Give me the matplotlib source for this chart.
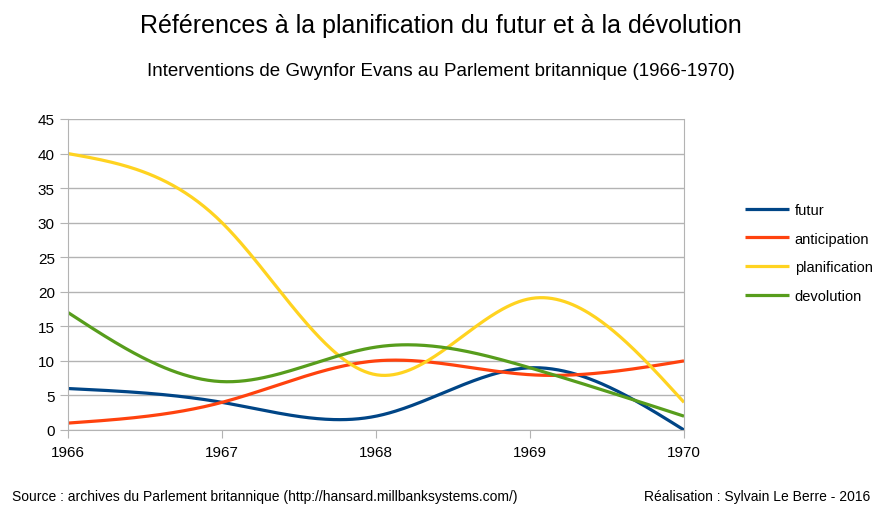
import numpy as np
import matplotlib.pyplot as plt
from matplotlib import font_manager

years = [1966, 1967, 1968, 1969, 1970]
futur = [6, 4, 2, 9, 0]
anticipation = [1, 4, 10, 8, 10]
planification = [40, 30, 8, 19, 4]
devolution = [17, 7, 12, 9, 2]

names = ["futur", "anticipation", "planification", "devolution"]
colors = ["#004586", "#ff420e", "#ffd320", "#579d1c"]


def natural_spline(x, y, n=300):
    # natural cubic spline, like the office chart "cubic spline" option
    x = np.asarray(x, float)
    y = np.asarray(y, float)
    k = len(x)
    h = np.diff(x)
    A = np.zeros((k, k))
    b = np.zeros(k)
    A[0, 0] = A[-1, -1] = 1
    for i in range(1, k - 1):
        A[i, i - 1] = h[i - 1]
        A[i, i] = 2 * (h[i - 1] + h[i])
        A[i, i + 1] = h[i]
        b[i] = 6 * ((y[i + 1] - y[i]) / h[i] - (y[i] - y[i - 1]) / h[i - 1])
    m = np.linalg.solve(A, b)
    xs = np.linspace(x[0], x[-1], n)
    ys = np.empty_like(xs)
    for j, xv in enumerate(xs):
        i = min(np.searchsorted(x, xv, side="right") - 1, k - 2)
        t = xv - x[i]
        u = x[i + 1] - xv
        ys[j] = (m[i] * u ** 3 + m[i + 1] * t ** 3) / (6 * h[i]) \
            + (y[i] / h[i] - m[i] * h[i] / 6) * u \
            + (y[i + 1] / h[i] - m[i + 1] * h[i] / 6) * t
    return xs, ys


avail = {f.name for f in font_manager.fontManager.ttflist}
fam = "Liberation Sans Narrow" if "Liberation Sans Narrow" in avail else "Liberation Sans"
plt.rcParams["font.family"] = [fam, "DejaVu Sans"]

fig = plt.figure(figsize=(8.82, 5.06), dpi=100)
ax = fig.add_axes([68 / 882, 75 / 506, 616 / 882, 311 / 506])

for name, vals, c in zip(names, [futur, anticipation, planification, devolution], colors):
    xs, ys = natural_spline(years, vals)
    ax.plot(xs, ys, color=c, lw=2.3, label=name, solid_capstyle="butt")

ax.set_xlim(1966, 1970)
ax.set_ylim(0, 45)
ax.set_xticks(years)
ax.set_yticks(range(0, 46, 5))
ax.grid(axis="y", color="#b3b3b3", lw=1)
ax.set_axisbelow(True)
for s in ax.spines.values():
    s.set_color("#b3b3b3")
ax.spines["top"].set_visible(False)
ax.tick_params(axis="both", colors="#b3b3b3", labelcolor="#000000", labelsize=11, length=6)
ax.tick_params(axis="x", pad=5)

fig.text(0.5, 1 - 26 / 506, "Références à la planification du futur et à la dévolution",
         ha="center", va="center", fontsize=18)
fig.text(0.5, 1 - 71 / 506, "Interventions de Gwynfor Evans au Parlement britannique (1966-1970)",
         ha="center", va="center", fontsize=13.5)
fig.text(12 / 882, 1 - 497 / 506, "Source : archives du Parlement britannique (http://hansard.millbanksystems.com/)",
         ha="left", va="center", fontsize=10)
fig.text(870 / 882, 1 - 497 / 506, "Réalisation : Sylvain Le Berre - 2016",
         ha="right", va="center", fontsize=10)

fig.legend(loc="upper left", bbox_to_anchor=(745 / 882, 1 - 204 / 506), frameon=False,
           fontsize=10.5, handlelength=3.0, labelspacing=1.0, handletextpad=0.4,
           borderpad=0, borderaxespad=0)

fig.savefig("out.png", dpi=100)
